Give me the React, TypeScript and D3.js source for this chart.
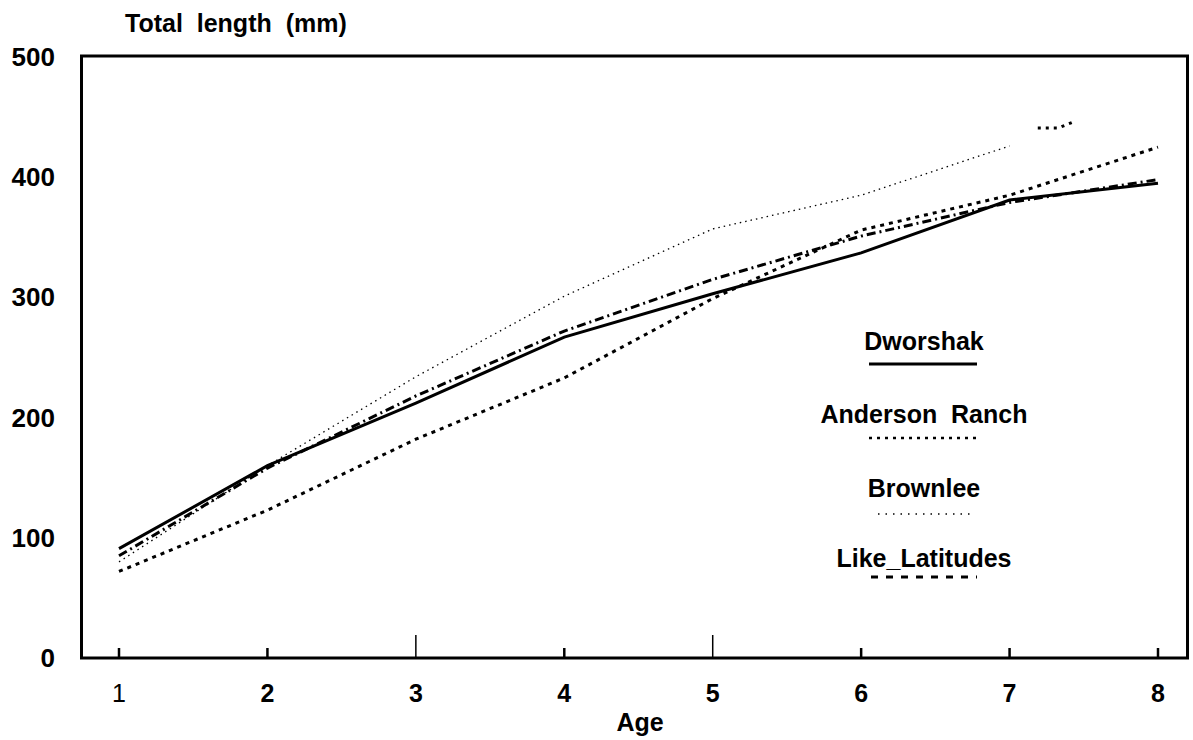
import React from "react";
import * as d3 from "d3";

// ages on the x axis
const ages = [1, 2, 3, 4, 5, 6, 7, 8];
const yTicks = [0, 100, 200, 300, 400, 500];

// total length (mm) by age
const dworshak = [91, 160, 212, 267, 303, 337, 381, 395];
const andersonRanch = [72, 123, 182, 233, 299, 356, 385, 425];
const brownlee = [80, 160, 234, 301, 357, 385, 426];
const likeLatitudes = [85, 158, 218, 272, 315, 351, 379, 398];
// stray piece of the Brownlee trace past age 7
const brownleeTailAges = [7.19, 7.33, 7.45];
const brownleeTail = [441, 441, 447];

const legendNames = ["Dworshak", "Anderson  Ranch", "Brownlee", "Like_Latitudes"];

const W = 1193;
const H = 740;
const font = "'Liberation Sans', Arial, sans-serif";

const App: React.FC = () => {
  const x = d3.scaleLinear().domain([1, 8]).range([119, 1158]);
  const y = d3.scaleLinear().domain([0, 500]).range([658, 57]);

  const line = d3
    .line<[number, number]>()
    .x((d) => x(d[0]))
    .y((d) => y(d[1]));

  const pairs = (vals: number[], xs: number[] = ages) =>
    vals.map((v, i) => [xs[i], v] as [number, number]);

  // line styles: width, dash
  const styles = [
    { w: 3, dash: undefined as string | undefined },
    { w: 3, dash: "4,5" },
    { w: 1.3, dash: "1.5,4" },
    { w: 3, dash: "9,4,2,4" },
  ];
  const series = [dworshak, andersonRanch, brownlee, likeLatitudes];

  // legend layout
  const legendX = 924;
  const legendText = [350, 423, 497, 567];
  const legendLine = [
    { y: 364, x1: 869, x2: 977, w: 3, dash: undefined as string | undefined },
    { y: 438, x1: 869, x2: 977, w: 2.5, dash: "3,5" },
    { y: 514, x1: 878, x2: 973, w: 1.3, dash: "1.5,6" },
    { y: 577, x1: 871, x2: 977, w: 3, dash: "7,8" },
  ];

  const longTicks = [3, 5];

  return (
    <svg
      width={W}
      height={H}
      style={{ position: "absolute", left: 0, top: 0, background: "#fff" }}
      fontFamily={font}
      fontWeight="bold"
    >
      <rect x={0} y={0} width={W} height={H} fill="#fff" />

      {/* title */}
      <text
        x={125}
        y={32}
        fontSize={25}
        fill="#000"
        style={{ whiteSpace: "pre" }}
      >
        Total  length  (mm)
      </text>

      {/* frame */}
      <rect
        x={81.5}
        y={56}
        width={1106}
        height={602}
        fill="none"
        stroke="#000"
        strokeWidth={3}
      />

      {/* y labels */}
      {yTicks.map((t) => (
        <text
          key={t}
          x={55}
          y={y(t) + 9}
          fontSize={26}
          textAnchor="end"
          fill="#000"
        >
          {t}
        </text>
      ))}

      {/* x ticks and labels */}
      {ages.map((a) => (
        <g key={a}>
          <line
            x1={x(a)}
            x2={x(a)}
            y1={657}
            y2={longTicks.includes(a) ? 635 : 648}
            stroke="#000"
            strokeWidth={longTicks.includes(a) ? 1.5 : 2.5}
          />
          <text
            x={x(a)}
            y={702}
            fontSize={25}
            textAnchor="middle"
            fill="#000"
            fontWeight={a === 1 ? "normal" : "bold"}
          >
            {a}
          </text>
        </g>
      ))}
      <text x={640} y={731} fontSize={25} textAnchor="middle" fill="#000">
        Age
      </text>

      {/* series */}
      {series.map((s, i) => (
        <path
          key={i}
          d={line(pairs(s)) || ""}
          fill="none"
          stroke="#000"
          strokeWidth={styles[i].w}
          strokeDasharray={styles[i].dash}
        />
      ))}
      <path
        d={line(pairs(brownleeTail, brownleeTailAges)) || ""}
        fill="none"
        stroke="#000"
        strokeWidth={3}
        strokeDasharray="3,5"
      />

      {/* legend */}
      {legendNames.map((n, i) => (
        <g key={n}>
          <text
            x={legendX}
            y={legendText[i]}
            fontSize={25}
            textAnchor="middle"
            fill="#000"
            style={{ whiteSpace: "pre" }}
          >
            {n}
          </text>
          <line
            x1={legendLine[i].x1}
            x2={legendLine[i].x2}
            y1={legendLine[i].y}
            y2={legendLine[i].y}
            stroke="#000"
            strokeWidth={legendLine[i].w}
            strokeDasharray={legendLine[i].dash}
          />
        </g>
      ))}
    </svg>
  );
};

export default App;
